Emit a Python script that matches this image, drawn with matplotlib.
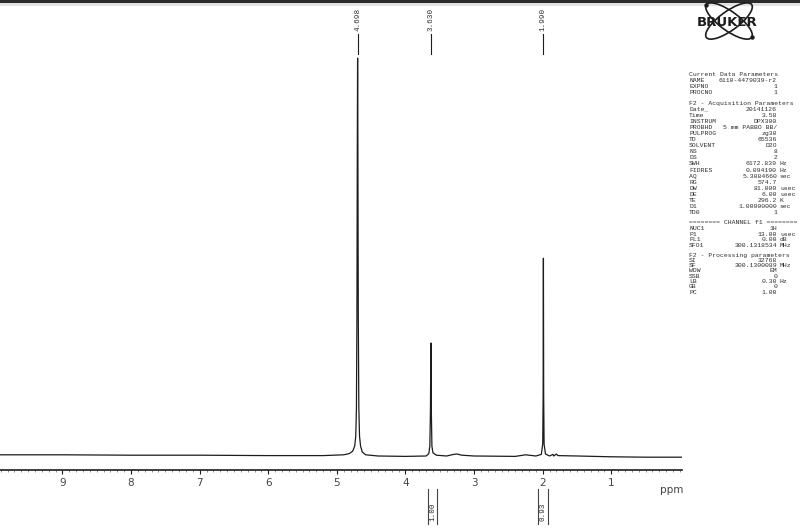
#!/usr/bin/env python3
"""Redraw a scanned Bruker 1H NMR printout: spectrum, peak picks, integrals, parameter list."""

import matplotlib

matplotlib.use("Agg")
import matplotlib.pyplot as plt
import numpy as np
from matplotlib.patches import Ellipse, Rectangle
from matplotlib.ticker import MultipleLocator

FIG_W_PX = 800
FIG_H_PX = 528
DPI = 100

# spectrum trace (ppm, intensity with the tallest peak = 100)
SPEC_PPM = [
    9.91, 9.0, 8.0, 7.0, 6.0, 5.2, 4.90, 4.82, 4.77, 4.74, 4.725, 4.715, 4.708,
    4.702, 4.698, 4.694, 4.688, 4.68, 4.67, 4.655, 4.63, 4.58, 4.40, 4.00, 3.70,
    3.66, 3.645, 3.636, 3.630, 3.624, 3.615, 3.60, 3.55, 3.40, 3.30, 3.25, 3.18,
    3.00, 2.40, 2.25, 2.20, 2.10, 2.02, 2.00, 1.994, 1.990, 1.986, 1.98, 1.96,
    1.90, 1.85, 1.84, 1.80, 1.78, 1.50, 1.00, 0.50, -0.03,
]
SPEC_INT = [
    0.3, 0.3, 0.2, 0.2, 0.1, 0.1, 0.3, 0.6, 1.2, 2.5, 5.0, 12.0, 35.0,
    80.0, 100.0, 80.0, 35.0, 12.0, 5.0, 2.5, 1.0, 0.3, 0.0, -0.1, 0.0,
    0.6, 2.5, 12.0, 28.4, 12.0, 2.5, 0.8, 0.2, 0.0, 0.4, 0.5, 0.2,
    0.0, -0.1, 0.3, 0.2, 0.0, 0.4, 3.0, 15.0, 49.7, 15.0, 3.0, 0.5,
    0.0, 0.4, 0.0, 0.5, 0.1, 0.0, -0.2, -0.3, -0.3,
]

PEAK_PPM = [4.698, 3.630, 1.990]
PEAK_LABELS = ["4.698", "3.630", "1.990"]

INTEGRAL_LEFT = [3.67, 2.07]
INTEGRAL_RIGHT = [3.54, 1.92]
INTEGRAL_VALUES = ["1.00", "0.93"]

TICK_PPM = [9, 8, 7, 6, 5, 4, 3, 2, 1]
X_LIMITS = (9.91, -0.03)
Y_LIMITS = (-3.52, 114.6)

CURRENT_ROWS = [
    ("NAME", "6110-4479039-r2", ""),
    ("EXPNO", "1", ""),
    ("PROCNO", "1", ""),
]
ACQ_ROWS = [
    ("Date_", "20141126", ""),
    ("Time", "3.58", ""),
    ("INSTRUM", "DPX300", ""),
    ("PROBHD", "5 mm PABBO BB/", ""),
    ("PULPROG", "zg30", ""),
    ("TD", "65536", ""),
    ("SOLVENT", "D2O", ""),
    ("NS", "8", ""),
    ("DS", "2", ""),
    ("SWH", "6172.839", "Hz"),
    ("FIDRES", "0.094190", "Hz"),
    ("AQ", "5.3084660", "sec"),
    ("RG", "574.7", ""),
    ("DW", "81.000", "usec"),
    ("DE", "6.00", "usec"),
    ("TE", "296.2", "K"),
    ("D1", "1.00000000", "sec"),
    ("TD0", "1", ""),
]
CHANNEL_ROWS = [
    ("NUC1", "1H", ""),
    ("P1", "13.00", "usec"),
    ("PL1", "0.00", "dB"),
    ("SFO1", "300.1318534", "MHz"),
]
PROC_ROWS = [
    ("SI", "32768", ""),
    ("SF", "300.1300089", "MHz"),
    ("WDW", "EM", ""),
    ("SSB", "0", ""),
    ("LB", "0.30", "Hz"),
    ("GB", "0", ""),
    ("PC", "1.00", ""),
]
PARAM_BLOCKS = [
    ("Current Data Parameters", CURRENT_ROWS),
    ("F2 - Acquisition Parameters", ACQ_ROWS),
    ("======== CHANNEL f1 ========", CHANNEL_ROWS),
    ("F2 - Processing parameters", PROC_ROWS),
]

INK = "#1c1c1c"
GREY_TEXT = "#2e2e2e"
MONO = ["Liberation Mono", "DejaVu Sans Mono"]


def px_frac_y(y_px, axes_top_px, axes_bottom_px):
    return (axes_bottom_px - y_px) / (axes_bottom_px - axes_top_px)


def plot_spectrum(ax):
    ax.plot(SPEC_PPM, SPEC_INT, color=INK, linewidth=0.9, solid_joinstyle="round")
    ax.set_xlim(*X_LIMITS)
    ax.set_ylim(*Y_LIMITS)
    for side in ("left", "right", "top"):
        ax.spines[side].set_visible(False)
    ax.spines["bottom"].set_linewidth(1.2)
    ax.spines["bottom"].set_color(INK)
    ax.set_yticks([])
    ax.set_xticks(TICK_PPM)
    ax.set_xticklabels([str(t) for t in TICK_PPM])
    ax.xaxis.set_minor_locator(MultipleLocator(0.1))
    ax.tick_params(axis="x", which="major", length=3, width=0.8, color=INK,
                   labelsize=7.5, labelcolor="#444444", pad=3)
    ax.tick_params(axis="x", which="minor", length=1.5, width=0.5, color="#666666")
    ax.patch.set_alpha(0.0)


def plot_peak_labels(ax, top_px, bottom_px):
    trans = ax.get_xaxis_transform()
    for ppm, label in zip(PEAK_PPM, PEAK_LABELS):
        ax.text(ppm, px_frac_y(8, top_px, bottom_px), label, rotation=90,
                ha="center", va="top", fontsize=5.5, family=MONO,
                color=GREY_TEXT, transform=trans, clip_on=False)
        ax.plot([ppm, ppm],
                [px_frac_y(34, top_px, bottom_px), px_frac_y(54, top_px, bottom_px)],
                color=INK, linewidth=0.8, transform=trans, clip_on=False)


def plot_integrals(ax, top_px, bottom_px):
    trans = ax.get_xaxis_transform()
    y0 = px_frac_y(489, top_px, bottom_px)
    y1 = px_frac_y(524, top_px, bottom_px)
    for left, right, value in zip(INTEGRAL_LEFT, INTEGRAL_RIGHT, INTEGRAL_VALUES):
        for edge in (left, right):
            ax.plot([edge, edge], [y0, y1], color="#444444", linewidth=0.8,
                    transform=trans, clip_on=False)
        ax.text((left + right) / 2, px_frac_y(512, top_px, bottom_px), value,
                rotation=90, ha="center", va="center", fontsize=5.5, family=MONO,
                color=GREY_TEXT, transform=trans, clip_on=False)


def draw_parameter_list(ov):
    x_label, x_value, x_unit = 689, 777, 780
    # (first line y, row step) per block
    block_layout = [(75.0, 5.7), (103.0, 6.1), (223.0, 5.6), (255.0, 5.3)]
    for (header, rows), (y, step) in zip(PARAM_BLOCKS, block_layout):
        ov.text(x_label, y, header, fontsize=4.6, family=MONO, color=GREY_TEXT,
                ha="left", va="center")
        for name, value, unit in rows:
            y += step
            ov.text(x_label, y, name, fontsize=4.6, family=MONO, color=GREY_TEXT,
                    ha="left", va="center")
            ov.text(x_value, y, value, fontsize=4.6, family=MONO, color=GREY_TEXT,
                    ha="right", va="center")
            if unit:
                ov.text(x_unit, y, unit, fontsize=4.6, family=MONO, color=GREY_TEXT,
                        ha="left", va="center")


def draw_logo(ov):
    cx, cy = 729, 21
    width, height = 56, 19
    for angle in (36, -36):
        ov.add_patch(Ellipse((cx, cy), width=width, height=height, angle=angle,
                             fill=False, edgecolor=INK, linewidth=1.2))
    theta = np.deg2rad(36)
    dx, dy = width / 2 * np.cos(theta), width / 2 * np.sin(theta)
    ov.plot([cx - dx, cx + dx], [cy - dy, cy + dy], linestyle="none",
            marker="o", markersize=2.2, color=INK)
    ov.text(cx - 2, cy + 1, "BRUKER", fontsize=9.5, fontweight="bold", color=INK,
            ha="center", va="center", family="DejaVu Sans")


def main():
    fig = plt.figure(figsize=(FIG_W_PX / DPI, FIG_H_PX / DPI), dpi=DPI)
    fig.patch.set_facecolor("white")

    axes_top_px, axes_bottom_px, axes_right_px = 0, 470, 682
    ax = fig.add_axes([
        0,
        1 - axes_bottom_px / FIG_H_PX,
        axes_right_px / FIG_W_PX,
        (axes_bottom_px - axes_top_px) / FIG_H_PX,
    ])
    plot_spectrum(ax)
    plot_peak_labels(ax, axes_top_px, axes_bottom_px)
    plot_integrals(ax, axes_top_px, axes_bottom_px)

    ov = fig.add_axes([0, 0, 1, 1])
    ov.set_xlim(0, FIG_W_PX)
    ov.set_ylim(FIG_H_PX, 0)
    ov.axis("off")
    ov.add_patch(Rectangle((0, 0), FIG_W_PX, 2.5, color="#2b2b2b", linewidth=0))
    ov.add_patch(Rectangle((0, 2.5), FIG_W_PX, 3, color="#e2e2e2", linewidth=0))
    ov.text(672, 490, "ppm", fontsize=7.5, color="#444444", ha="center", va="center")
    draw_logo(ov)
    draw_parameter_list(ov)

    fig.savefig("out.png", dpi=DPI)
    plt.close(fig)


if __name__ == "__main__":
    main()
